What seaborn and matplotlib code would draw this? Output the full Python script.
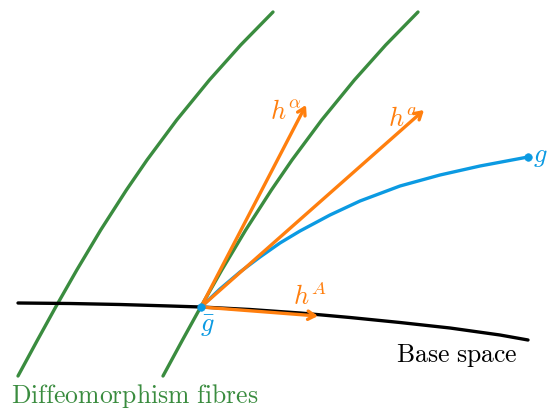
import seaborn as sns
import matplotlib.pyplot as plt

# curves in picture coordinates (x right, y down)
fibre_y = [376, 340, 307, 270, 230, 190, 160, 120, 80, 45, 12]
fibre_right_x = [163, 182.5, 200.7, 221.8, 245.7, 271.4, 292, 321.7, 354.4, 385.7, 418]
fibre_left_x = [18, 37.5, 55.7, 76.8, 100.7, 126.4, 147, 176.7, 209.4, 240.7, 273]
base_x = [18, 70, 120, 170, 201, 250, 300, 350, 400, 450, 500, 528]
base_y = [303, 303.5, 304.5, 306, 307, 309.5, 313, 317.5, 322.5, 328, 335, 340]
path_x = [201, 220, 240, 260, 280, 300, 330, 360, 400, 440, 480, 528]
path_y = [307, 289, 272, 257, 243, 231, 215, 201, 186, 175, 166, 157]

origin = (201, 307)
arrow_names = [r'$h^\alpha$', r'$h^a$', r'$h^A$']
arrow_tips = [(306, 105), (424, 110), (318, 316)]
label_pos = [(286, 111), (403, 118), (310, 296)]

GREEN = '#3a8c3f'
ORANGE = '#ff7f0e'
BLUE = '#0b9ae2'

sns.set_style('white')
plt.rcParams['mathtext.fontset'] = 'cm'
plt.rcParams['font.family'] = ['DejaVu Serif']

fig = plt.figure(figsize=(5.47, 4.11), dpi=100)
ax = fig.add_axes([0, 0, 1, 1])

curves = [
    (fibre_left_x, fibre_y, GREEN),
    (fibre_right_x, fibre_y, GREEN),
    (base_x, base_y, 'black'),
]
for xs, ys, c in curves:
    sns.lineplot(x=xs, y=ys, sort=False, color=c, lw=2.4, ax=ax)

for tip, name, pos in zip(arrow_tips, arrow_names, label_pos):
    ax.annotate('', xy=tip, xytext=origin,
                arrowprops=dict(arrowstyle='->,head_length=0.5,head_width=0.3',
                                color=ORANGE, lw=2.4, shrinkA=0, shrinkB=0))
    ax.text(pos[0], pos[1], name, color=ORANGE, fontsize=19,
            ha='center', va='center')

sns.lineplot(x=path_x, y=path_y, sort=False, color=BLUE, lw=2.4, ax=ax)
sns.scatterplot(x=[path_x[0], path_x[-1]], y=[path_y[0], path_y[-1]],
                color=BLUE, s=30, edgecolor=BLUE, ax=ax, zorder=5)

ax.text(207, 326, r'$\bar{g}$', color=BLUE, fontsize=19, ha='center', va='center')
ax.text(540, 156, r'$g$', color=BLUE, fontsize=19, ha='center', va='center')
ax.text(457, 355, r'$\mathrm{Base\ space}$', color='black', fontsize=18.5,
        ha='center', va='center')
ax.text(135, 396, r'$\mathrm{Diffeomorphism\ fibres}$', color=GREEN, fontsize=18.5,
        ha='center', va='center')

ax.set_xlim(0, 547)
ax.set_ylim(411, 0)
ax.axis('off')
fig.savefig('out.png', dpi=100)
